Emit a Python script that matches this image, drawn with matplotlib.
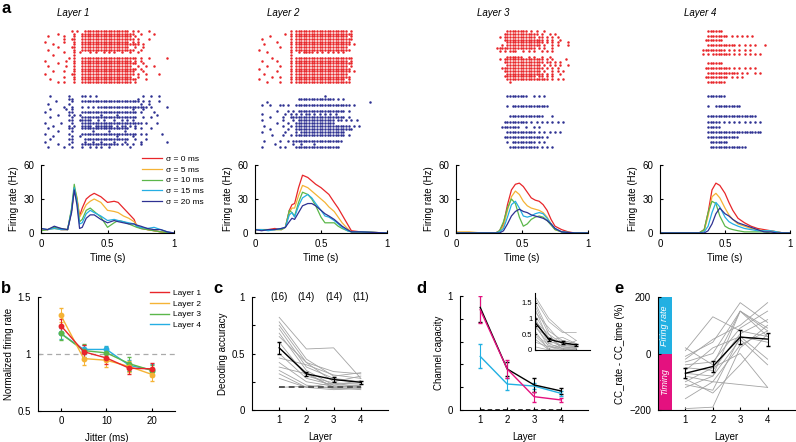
import matplotlib
matplotlib.use("Agg")
import matplotlib.pyplot as plt
from matplotlib.lines import Line2D
import numpy as np

plt.rcParams["font.family"] = ["Liberation Sans", "DejaVu Sans"]
plt.rcParams["axes.linewidth"] = 0.8
plt.rcParams["xtick.direction"] = "in"
plt.rcParams["ytick.direction"] = "in"
plt.rcParams["xtick.major.size"] = 2.5
plt.rcParams["ytick.major.size"] = 2.5
plt.rcParams["xtick.labelsize"] = 7
plt.rcParams["ytick.labelsize"] = 7

W, H = 796, 442

# ---------------- panel a: rasters (one char = 20 ms bin, "x" = spike) -------------
RASTER_RED_L1 = [
    "...........x.x..xxxxxxxxxxxxxxxxx.x.x...x.........",
    "......x.....x..xxxxxxxxxxxxxxxxxxxx..x....x.......",
    "..x.....x...x..xxxxxxxxxxxxxxxxxxx.x..............",
    "........x..xx..xxxxxxxxxxxxxxxxxxxx.x...x.........",
    ".x......x...x..xxxxxxxxxxxxxxxxxx.x.x.............",
    "....x.......x..xxxxxxxxxxxxxxxxxxxxxx.x...........",
    "......x....xx..xxxxxxxxxxxxxxxxxx..x..x...........",
    "..x.........x..xxxxxxxxxxxxxxxxxxxx..x............",
    "........x...x.x...x.x..x.x.x..x..x..x.............",
    "....x.......x.....................................",
    "..........x.x..xxxxxxxxxxxxxxxxxxxxx.x..x......x..",
    ".x.......x..x..xxxxxxxxxxxxxxxxxxx.x.x............",
    "......x.....x..xxxxxxxxxxxxxxxxxxxxx..x...........",
    "..x......x..x..xxxxxxxxxxxxxxxxxxx..x..x..x.......",
    "............x..xxxxxxxxxxxxxxxxxxxxx.x............",
    "....x...x...x..xxxxxxxxxxxxxxxxxxxx...x...........",
    ".x.........xx..xxxxxxxxxxxxxxxxxxxx.x..x....x.....",
    "........x...x..xxxxxxxxxxxxxxxxxxx..x.............",
    "...x........x..xxxxxxxxxxxxxxxxxxxxx...x..........",
    "......x.x...x..xxxxxxxxxxxxxxxxxxx.x..............",
]
RASTER_BLUE_L1 = [
    "...x......x....xx.x.x.................x..x..x.....",
    "..........xx........................x.............",
    ".....x.....x...xxxxxxxxxxxxxxxxxxxxxx.x.x...x.....",
    "..x.......x..........................x..x.........",
    "........x..x...x.x.x.xxxxxxxxxxxxxxxxxxx.x.....x..",
    "...x.....x.x......................x...x...........",
    ".x........xx...xxxxxxxxxxxxxxxxxxxxx.x....x.......",
    "......x...x.x.x.......x.....x..............x......",
    "...x.......x...xxxxxxxxxxxxxxxxxxxxx..x..x........",
    "..........xx..xxxxx..x.x...x..x.x.x...............",
    ".x.....x...x...xxxxxxxxxxxxxxxxxxxxxxx.x...x......",
    "....x.....x.x..xxxx.xxxxxxx.x.xx.x.x..............",
    "..x.......xx...xxxxxxxxxxxxxxxxxx..x.x...x........",
    "......x....x.......x.....x.....x..................",
    ".x........x....xxxxxxxxxxxxxxxxxxxxx.x.x.....x....",
    "....x......x..x.............x.....x...............",
    "...x......xx....xxxxxxxxxxxxxxxxx..x...x..........",
    ".x.........x....x..x..x....x...x.....x.........x..",
    "......x...x....xxxxxxxxxxxxxx.x.x.x..x............",
    "..x.....x..x...x..x.x.x..x.......x................",
]
RASTER_RED_L2 = [
    ".............x.xxxxxxxxxxxxxxxxxxxx.x.............",
    "...........x.x.xxxxxxxxxxxxxxxxxxxxxx.............",
    ".....x.......x.xxxxxxxxxxxxxxxxxxxx.x.............",
    "..x..........x.xxxxxxxxxxxxxxxxxxxxxx.............",
    "........x....x.xxxxxxxxxxxxxxxxxxxxx..............",
    "...x.........x.xxxxxxxxxxxxxxxxxxxxx.x............",
    ".........x...x.xxxxxxxxxxxxxxxxxxxx...............",
    ".x...........x.xxxxxxxxxxxxxxxxxxxxx..............",
    "....x........x..x.xxxx.x.x.x.x.x.x................",
    ".............x....................................",
    "......x......x.xxxxxxxxxxxxxxxxxxxxxx.............",
    "..x.....x....x.xxxxxxxxxxxxxxxxxxxx.x.............",
    ".............x.xxxxxxxxxxxxxxxxxxxxxx.............",
    "....x....x...x.xxxxxxxxxxxxxxxxxxxx.x.............",
    ".x...........x.xxxxxxxxxxxxxxxxxxxxx..............",
    "........x....x.xxxxxxxxxxxxxxxxxxxxx.x............",
    "...x.........x.xxxxxxxxxxxxxxxxxxxx...............",
    "......x..x...x.xxxxxxxxxxxxxxxxxxxxx..............",
    ".x...........x.xxxxxxxxxxxxxxxxxxx.x..............",
    "....x....x...x.xxxxxxxxxxxxxxxxxxxxx..............",
]
RASTER_BLUE_L2 = [
    "..........................x.......................",
    "................xxxxxxxxxxxxxx.x.x................",
    "....x......................................x......",
    "..x..x...xx.x..xxxxxxxxxxxxxxxxxxxxx.x............",
    "..................................................",
    "........x...x.x.xxxxxxxxxxxxxxxxxx.x..............",
    "..x........x.x.x.x.xx.x.x.x.x.x...................",
    ".....x....x..xxxxxxxxxxxxxxxxxxxxx.x..............",
    "..x.......x...x.xxxxxxxxxxxxxx.xx.x.x.x...........",
    "........x...x..xxxxxxxxxxxxxxx....................",
    "...x......x..x.xxxxxxxxxxxxxxxxxxxxx.x.x..........",
    ".....x......x..xxxxxxxxxxxxxxxxxxxxxx.............",
    "..x........x...x.xxxxxxxxxxxxxxxxx................",
    "......x...x..x.xxxxxxxxxxxxxxxxxxx.x..............",
    "..................................................",
    "...x.....x..x.xxxxxxxxxxxxxxxxxxx.................",
    ".......x......x..x....x...........................",
    "..x......x.x...xxxxxxxxxxxxxxxxx..................",
]
RASTER_RED_L3 = [
    "...................xxxxxxxx.x.x..x................",
    "..................xxxxxxxxxxxxx.x..x.x............",
    "................x.xxxxxxxxxxxx.xx.x.x.x...........",
    "..................xxxxxxxxxxxxxxx.x.x..x..........",
    "...................xxxxxxxxxxxxxx.x.x.x...x.......",
    ".................x.xxxxxxxxxxxxx.x..x.x...x.......",
    "...............xxxxxxxxxxxxxxx.x.x..x.............",
    "................x.x.xxx..x.x.x..x.x.x.............",
    "..................................................",
    "...................xxxxxx..x.x..x..x..............",
    "................x.xxxxxxxxxxxxxxx.x.x....x........",
    "..................xxxxxxxxxxxxxxx.xx.x.x..........",
    "...................xxxxxxxxxxxxx.x.x.x.x..x.......",
    ".................xxxxxxxxxxxxxxxx.x.x.x...........",
    "..................xxxxxxxxxxxxxx.x..x.x.x.........",
    "...................xxxxxxxxxxxxxx.x.x..x..........",
    "..................xxxxxxxxxxxx.xx.x.x.............",
    "...................xxxxxxxxxxxxxxxx.x.x.x.........",
    "....................x.............................",
]
RASTER_BLUE_L3 = [
    "...................xxxxxxxx..x.x.x................",
    "..................................................",
    "...................x.xxxxxxxxxxxxxx...............",
    "..................................................",
    "....................xxxxxxxxxxxxx...x.............",
    "..................xxxxxxxxx.x.x.x.x.x.x.x.........",
    ".................xxxxxxx..x..x.x..................",
    "...................xxxxxxxxxxx.x.x.x.x.x..........",
    "..................xxxxxxxxxxxxxxx.x...............",
    "...................x.xxxxxxxxx.x.x................",
    "....................xxxxxxxxxxx.x.x.x.............",
]
RASTER_RED_L4 = [
    "..................xxxxxx..........................",
    "..................xxxxxxxx.x.x.x.x.x..............",
    ".................xxxxxxx..........................",
    "..................xxxxxxxxxxx.x.x.x.x...x.........",
    "................xxxxxxxxx.x.x.x.x.x...............",
    "................x.x.xxxxxxx.x.x.x.x.x.x...........",
    "..................................................",
    "..................xxxxxx..........................",
    ".................xxxxxxxxxx.x.x.x.x.x.............",
    "..................xxxxxxxxxxxx.x.x..x.x...........",
    ".................xxxxxxxxx.x.x.x..................",
    "..................xxxxxxx.........................",
]
RASTER_BLUE_L4 = [
    "..................xxxxxxx.........................",
    "..................................................",
    "..................x..xxxxxxxxxx...................",
    "..................................................",
    "..................xxxxxxxxxxxxxxxxxxx.............",
    "..................xxxxx.x.x.x.x.x.x.x.x...........",
    "..................xxxxx...........................",
    "..................xxxxxxxxxxxxxxxxxxxxx...........",
    "..................xxxxxxxxxxxx....................",
    "...................xxxxxxx........................",
    "...................xxxxxxxxxxxxxx.................",
]

# ---------------- panel a: smoothed firing rates (Hz) -------------------------------
SIGMA_LABELS = ["σ = 0 ms", "σ = 5 ms", "σ = 10 ms", "σ = 15 ms", "σ = 20 ms"]

T_L1 = [0, 0.05, 0.1, 0.15, 0.2, 0.23, 0.25, 0.27, 0.29, 0.31, 0.34, 0.37, 0.4,
        0.45, 0.5, 0.55, 0.58, 0.62, 0.66, 0.7, 0.72, 0.75, 0.8, 0.85, 0.9, 0.95, 1.0]
RATE_L1 = [
    [3, 3, 5, 3, 3, 20, 38, 30, 15, 22, 30, 33, 35, 32, 27, 28, 27, 22, 17, 12, 6, 4, 3, 2, 1, 0.5, 0],
    [3, 3, 4, 3, 3, 20, 40, 32, 14, 18, 25, 28, 30, 27, 20, 19, 18, 15, 13, 10, 7, 5, 3, 2, 1, 0.5, 0],
    [2, 3, 5, 4, 3, 22, 43, 30, 10, 12, 20, 22, 19, 14, 5, 9, 11, 10, 8, 6, 5, 4, 3, 2, 1, 0.5, 0],
    [4, 3, 4, 3, 3, 20, 40, 28, 8, 9, 17, 20, 18, 15, 11, 12, 11, 10, 9, 8, 6, 5, 4, 5, 3, 1, 0],
    [4, 3, 6, 4, 3, 18, 38, 25, 4, 5, 13, 16, 16, 12, 9, 11, 10, 9, 8, 8, 7, 6, 4, 3, 3, 1, 0],
]
T_L2 = [0, 0.05, 0.1, 0.15, 0.2, 0.23, 0.26, 0.28, 0.3, 0.33, 0.36, 0.4, 0.43, 0.46,
        0.5, 0.53, 0.56, 0.6, 0.63, 0.66, 0.7, 0.73, 0.8, 0.9, 1.0]
RATE_L2 = [
    [3, 3, 3, 4, 3, 5, 20, 25, 26, 40, 51, 49, 46, 43, 40, 37, 34, 27, 22, 16, 8, 2, 1, 0.5, 0],
    [3, 3, 3, 3, 3, 5, 18, 22, 22, 33, 42, 40, 37, 34, 30, 27, 23, 19, 14, 9, 4, 1, 1, 0.5, 0],
    [3, 3, 3, 3, 3, 5, 20, 18, 15, 27, 36, 34, 30, 24, 14, 9, 9, 9, 6, 4, 2, 1, 1, 0.5, 0],
    [3, 3, 2, 3, 4, 5, 16, 18, 14, 24, 31, 34, 31, 26, 20, 15, 14, 11, 8, 5, 2, 1, 1, 0.5, 0],
    [3, 2, 3, 3, 4, 5, 10, 13, 12, 18, 24, 26, 26, 24, 20, 17, 15, 12, 9, 6, 3, 1, 1, 0.5, 0],
]
T_L3 = [0, 0.1, 0.2, 0.3, 0.33, 0.36, 0.39, 0.42, 0.45, 0.48, 0.51, 0.54, 0.57, 0.6,
        0.63, 0.66, 0.69, 0.72, 0.75, 0.8, 0.85, 0.9, 1.0]
RATE_L3 = [
    [0, 0, 0, 0, 2, 8, 25, 38, 43, 44, 41, 36, 31, 29, 28, 25, 20, 12, 6, 3, 1, 0, 0],
    [1, 1, 0, 0, 1, 6, 20, 32, 37, 34, 28, 24, 22, 21, 20, 18, 14, 8, 3, 1, 0.5, 0, 0],
    [0, 0, 0, 0, 2, 10, 22, 30, 26, 14, 6, 8, 12, 14, 15, 14, 11, 7, 3, 1, 0.5, 0, 0],
    [0, 0, 0, 0, 1, 4, 14, 25, 28, 22, 15, 14, 15, 17, 18, 17, 13, 8, 4, 1, 0.5, 0, 0],
    [0, 0, 0, 0, 0, 2, 8, 15, 19, 21, 19, 18, 16, 15, 14, 13, 11, 8, 4, 1, 0.5, 0, 0],
]
T_L4 = [0, 0.1, 0.2, 0.3, 0.34, 0.37, 0.4, 0.43, 0.46, 0.5, 0.53, 0.56, 0.6, 0.65,
        0.7, 0.75, 0.8, 0.85, 0.9, 0.95, 1.0]
RATE_L4 = [
    [0, 0, 0, 0, 3, 18, 38, 44, 42, 35, 27, 20, 13, 9, 6, 4, 3, 2, 1, 0, 0],
    [0, 0, 0, 0, 2, 15, 32, 35, 31, 22, 16, 12, 8, 6, 4, 3, 2, 2, 1, 0, 0],
    [0, 0, 0, 0, 3, 18, 28, 26, 15, 6, 4, 3, 2, 1, 1, 1, 1, 0, 0, 0, 0],
    [0, 0, 0, 0, 1, 6, 18, 27, 23, 14, 10, 8, 6, 4, 3, 2, 2, 2, 1, 0, 0],
    [0, 0, 0, 0, 0, 2, 8, 17, 22, 17, 15, 12, 9, 7, 5, 3, 1, 1, 0, 0, 0],
]

# ---------------- panel b ----------------------------------------------------------
JITTER = [0, 5, 10, 15, 20]
LAYER_LABELS = ["Layer 1", "Layer 2", "Layer 3", "Layer 4"]
NORM_RATE = [
    [1.25, 1.02, 0.965, 0.875, 0.87],
    [1.34, 0.96, 0.945, 0.89, 0.82],
    [1.18, 1.03, 1.01, 0.915, 0.855],
    [1.18, 1.04, 1.04, 0.90, 0.86],
]
NORM_ERR = [
    [0.06, 0.06, 0.05, 0.05, 0.05],
    [0.06, 0.06, 0.06, 0.05, 0.06],
    [0.06, 0.06, 0.05, 0.06, 0.05],
    [0.05, 0.04, 0.03, 0.05, 0.05],
]

# ---------------- panel c ----------------------------------------------------------
LAYERS = [1, 2, 3, 4]
N_UNITS = ["(16)", "(14)", "(14)", "(11)"]
DEC_MEAN = [0.55, 0.32, 0.27, 0.245]
DEC_ERR = [0.05, 0.02, 0.02, 0.015]
DEC_INDIV = [
    [0.82, 0.54, 0.55, 0.28], [0.78, 0.45, 0.30, 0.33], [0.75, 0.42, 0.25, 0.30],
    [0.72, 0.38, 0.28, 0.25], [0.68, 0.35, 0.22, 0.22], [0.65, 0.42, 0.34, 0.32],
    [0.60, 0.30, 0.24, 0.20], [0.55, 0.33, 0.20, 0.22], [0.50, 0.28, 0.22, 0.26],
    [0.46, 0.40, 0.31, 0.28], [0.42, 0.25, 0.21, 0.20], [0.38, 0.32, 0.20, 0.21],
    [0.35, 0.22, 0.19, 0.20], [0.32, 0.20, 0.24, 0.23], [0.28, 0.20, 0.18, 0.19],
    [0.20, 0.21, 0.20, 0.18],
]
DEC_CHANCE = 0.2

# ---------------- panel d ----------------------------------------------------------
CAP_ALL = [0.90, 0.36, 0.22, 0.167]
CAP_ALL_ERR = [0.13, 0.06, 0.06, 0.03]
CAP_TIME = [0.88, 0.36, 0.117, 0.088]
CAP_TIME_ERR = [0.12, 0.08, 0.045, 0.02]
CAP_RATE = [0.47, 0.228, 0.21, 0.146]
CAP_RATE_ERR = [0.105, 0.055, 0.03, 0.02]
INSET_MEAN = [0.87, 0.34, 0.23, 0.16]
INSET_ERR = [0.1, 0.05, 0.04, 0.02]
INSET_INDIV = [
    [1.7, 1.0, 0.6, 0.3], [1.6, 0.9, 0.55, 0.55], [1.5, 0.6, 0.3, 0.2],
    [1.4, 0.5, 0.2, 0.1], [1.3, 0.3, 0.4, 0.2], [1.2, 0.7, 0.2, 0.15],
    [1.1, 0.4, 0.1, 0.1], [1.0, 0.2, 0.3, 0.2], [0.95, 0.3, 0.1, 0.05],
    [0.9, 0.5, 0.0, 0.1], [0.8, 0.1, 0.2, 0.1], [0.75, 0.2, 0.05, 0.0],
    [0.7, 0.4, 0.1, 0.3], [0.6, 0.0, 0.1, 0.05], [0.5, 0.15, 0.0, 0.0],
    [0.45, 0.05, 0.15, 0.1], [0.35, 0.0, 0.0, 0.05], [0.25, 0.1, 0.05, 0.0],
    [0.1, 0.0, 0.0, 0.0],
]

# ---------------- panel e ----------------------------------------------------------
CC_MEAN = [-70, -46, 58, 51]
CC_ERR = [18, 21, 24, 23]
CC_INDIV = [
    [20, -40, 150, 90], [10, 130, 80, 60], [-10, 40, 180, 110], [-20, 50, 100, 180],
    [-30, 0, 150, 80], [-40, -30, 90, 150], [-50, -60, 70, 120], [-60, 20, 60, 40],
    [-70, -80, 50, -40], [-80, -100, 30, 80], [-90, -140, -40, 70], [-100, -50, 0, -120],
    [-110, -130, 60, -20], [-120, -80, 150, 60], [-160, -100, -110, -120],
    [-195, -190, 20, 100],
]

SIGMA_COLORS = ["#e8262a", "#f5b335", "#5bb74a", "#25aee3", "#2e3192"]
RED, BLUE = "#e8262a", "#2e3192"
MAGENTA, CYAN = "#e4117f", "#22b0e2"
GRAY = "#a3a3a3"


def px_axes(fig, x0, y0, x1, y1):
    # pixel box (left, top, right, bottom) -> figure axes
    return fig.add_axes([x0 / W, 1 - y1 / H, (x1 - x0) / W, (y1 - y0) / H])


def clean(ax):
    ax.spines["top"].set_visible(False)
    ax.spines["right"].set_visible(False)


fig = plt.figure(figsize=(W / 100, H / 100), dpi=100)

rasters = [
    (RASTER_RED_L1, RASTER_BLUE_L1),
    (RASTER_RED_L2, RASTER_BLUE_L2),
    (RASTER_RED_L3, RASTER_BLUE_L3),
    (RASTER_RED_L4, RASTER_BLUE_L4),
]
rates = [(T_L1, RATE_L1), (T_L2, RATE_L2), (T_L3, RATE_L3), (T_L4, RATE_L4)]
xspans = [(41, 174), (255, 387), (456, 588), (660, 790)]
title_x = [73, 283, 493, 700]

for k in range(4):
    x0, x1 = xspans[k]
    # raster
    rax = px_axes(fig, x0, 28, x1, 150)
    rax.set_xlim(0, 1)
    rax.set_ylim(122, 0)
    rax.axis("off")
    for rows, color, ya, yb in [(rasters[k][0], RED, 3, 54), (rasters[k][1], BLUE, 68, 119)]:
        n = len(rows)
        ts, ys = [], []
        for i, row in enumerate(rows):
            y = ya + i * (yb - ya) / (n - 1)
            for j, ch in enumerate(row):
                if ch == "x":
                    ts.append((j + 0.5) * 0.02)
                    ys.append(y)
        rax.plot(ts, ys, "o", ms=1.8, mew=0, color=color)
    fig.text(title_x[k] / W, 1 - 13 / H, f"Layer {k + 1}", fontsize=7, style="italic",
             ha="center", va="center")

    # firing rate
    ax = px_axes(fig, x0, 165, x1, 233)
    t, rr = rates[k]
    for vals, c, lab in zip(rr, SIGMA_COLORS, SIGMA_LABELS):
        ax.plot(t, vals, color=c, lw=0.9, label=lab)
    ax.set_xlim(0, 1)
    ax.set_ylim(0, 60)
    ax.set_xticks([0, 0.5, 1])
    ax.set_xticklabels(["0", "0.5", "1"])
    ax.set_yticks([0, 30, 60])
    ax.tick_params(axis="y", pad=5)
    ax.tick_params(axis="x", pad=4)
    ax.set_xlabel("Time (s)", fontsize=7, labelpad=3)
    ax.set_ylabel("Firing rate (Hz)", fontsize=7, labelpad=3)
    clean(ax)
    if k == 0:
        ax.legend(loc="upper left", bbox_to_anchor=(138 / W, 1 - 151 / H),
                  bbox_transform=fig.transFigure, frameon=False, fontsize=6,
                  handlelength=2.4, handletextpad=0.5, labelspacing=0.35, borderpad=0)

# ---------------- b ----------------
axb = px_axes(fig, 38, 297, 175, 411)
bcolors = [RED, SIGMA_COLORS[1], SIGMA_COLORS[2], SIGMA_COLORS[3]]
axb.axhline(1, color="#aaaaaa", lw=0.9, ls=(0, (4, 3)))
for i in [3, 2, 1, 0]:
    axb.errorbar(JITTER, NORM_RATE[i], yerr=NORM_ERR[i], color=bcolors[i], fmt="-o",
                 ms=3.2, lw=1.0, elinewidth=0.7, capsize=1.2)
handles = [Line2D([], [], color=c, lw=1.0) for c in bcolors]
axb.legend(handles, LAYER_LABELS, loc="upper left", bbox_to_anchor=(146 / W, 1 - 285 / H),
           bbox_transform=fig.transFigure, frameon=False, fontsize=6, handlelength=2.2,
           handletextpad=0.5, labelspacing=0.35, borderpad=0)
axb.set_xlim(-5, 25)
axb.set_ylim(0.5, 1.5)
axb.set_xticks([0, 10, 20])
axb.set_yticks([0.5, 1, 1.5])
axb.set_yticklabels(["0.5", "1", "1.5"])
axb.tick_params(axis="y", pad=5)
axb.set_xlabel("Jitter (ms)", fontsize=7, labelpad=5)
axb.set_ylabel("Normalized firing rate", fontsize=7, labelpad=3)
clean(axb)

# ---------------- c ----------------
axc = px_axes(fig, 252, 297, 388, 410)
for vals in DEC_INDIV:
    axc.plot(LAYERS, vals, color=GRAY, lw=0.6)
axc.plot([LAYERS[0], LAYERS[-1]], [DEC_CHANCE, DEC_CHANCE], color="#555555", lw=1.4,
         ls=(0, (3, 2)))
axc.errorbar(LAYERS, DEC_MEAN, yerr=DEC_ERR, color="black", lw=1.0, elinewidth=0.8,
             capsize=1.5)
for x, s in zip(LAYERS, N_UNITS):
    axc.text(x, 1.0, s, fontsize=7, ha="center", va="center")
axc.set_xlim(0, 5)
axc.set_ylim(0, 1)
axc.set_xticks(LAYERS)
axc.set_yticks([0, 0.25, 0.5, 0.75, 1])
axc.set_yticklabels(["0", "", "0.5", "", "1"])
axc.tick_params(axis="y", pad=5)
axc.set_xlabel("Layer", fontsize=7, labelpad=5)
axc.set_ylabel("Decoding accuracy", fontsize=7, labelpad=3)
clean(axc)

# ---------------- d ----------------
axd = px_axes(fig, 460, 296, 588, 410)
axd.plot([1, 4], [0, 0], color="black", lw=1.1, ls=(0, (3, 2)), clip_on=False)
axd.errorbar(LAYERS, CAP_RATE, yerr=CAP_RATE_ERR, color=CYAN, lw=1.0, elinewidth=0.8,
             capsize=1.5)
axd.errorbar(LAYERS, CAP_ALL, yerr=CAP_ALL_ERR, color="black", lw=1.0, elinewidth=0.8,
             capsize=1.5)
axd.errorbar(LAYERS, CAP_TIME, yerr=CAP_TIME_ERR, color=MAGENTA, lw=1.0, elinewidth=0.8,
             capsize=1.5)
axd.set_xlim(0.25, 5)
axd.set_ylim(0, 1)
axd.set_xticks(LAYERS)
axd.set_yticks([0, 0.2, 0.4, 0.6, 0.8, 1])
axd.set_yticklabels(["0", "", "", "", "", "1"])
axd.tick_params(axis="y", pad=5)
axd.set_xlabel("Layer", fontsize=7, labelpad=5)
axd.set_ylabel("Channel capacity", fontsize=7, labelpad=3)
clean(axd)

axi = px_axes(fig, 535, 293, 590, 350)
for vals in INSET_INDIV:
    axi.plot(LAYERS, vals, color=GRAY, lw=0.5)
axi.errorbar(LAYERS, INSET_MEAN, yerr=INSET_ERR, color="black", lw=1.0, elinewidth=0.8,
             capsize=1.2)
axi.set_xlim(1, 5)
axi.set_ylim(0, 1.8)
axi.set_xticks(LAYERS)
axi.set_xticklabels([])
axi.set_yticks([0, 0.5, 1, 1.5])
axi.set_yticklabels(["0", "0.5", "1", "1.5"])
axi.tick_params(labelsize=5.5, length=1.5, pad=2)
clean(axi)

# ---------------- e ----------------
axe = px_axes(fig, 658, 297, 795, 410)
axe.bar(0.25, 200, width=0.5, bottom=0, color=CYAN, edgecolor="none")
axe.bar(0.25, 200, width=0.5, bottom=-200, color=MAGENTA, edgecolor="none")
axe.text(0.25, 100, "Firing rate", rotation=90, color="white", style="italic",
         fontsize=6.5, ha="center", va="center")
axe.text(0.25, -100, "Timing", rotation=90, color="white", style="italic",
         fontsize=6.5, ha="center", va="center")
for vals in CC_INDIV:
    axe.plot(LAYERS, vals, color=GRAY, lw=0.6)
axe.errorbar(LAYERS, CC_MEAN, yerr=CC_ERR, color="black", lw=1.0, elinewidth=0.8,
             capsize=1.5)
axe.set_xlim(0, 5)
axe.set_ylim(-200, 200)
axe.set_xticks(LAYERS)
axe.set_yticks([-200, 0, 200])
axe.tick_params(axis="y", pad=5)
axe.set_xlabel("Layer", fontsize=7, labelpad=5)
axe.set_ylabel("CC_rate - CC_time (%)", fontsize=7, labelpad=3)
clean(axe)

# panel letters
for s, x, y in [("a", 2, 1), ("b", 1, 281), ("c", 213, 281), ("d", 416, 281), ("e", 614, 281)]:
    fig.text(x / W, 1 - y / H, s, fontsize=12, fontweight="bold", va="top", ha="left")

fig.savefig("out.png", dpi=100)
